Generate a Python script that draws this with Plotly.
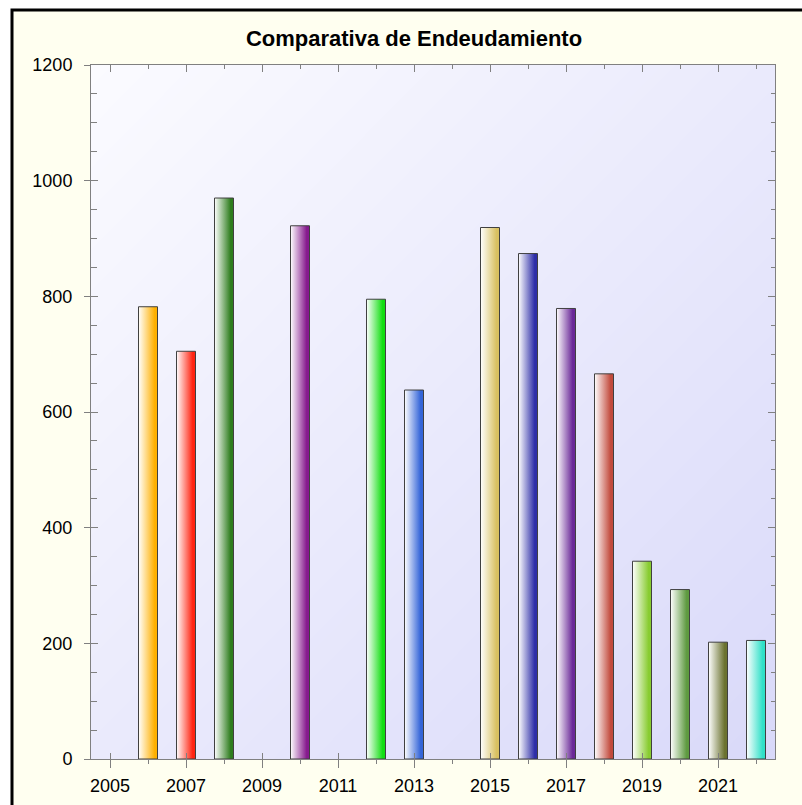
import plotly.graph_objects as go

# ---- data ----
years = [2006, 2007, 2008, 2010, 2012, 2013, 2015, 2016, 2017, 2018, 2019, 2020, 2021, 2022]
values = [782, 705, 970, 922, 795, 638, 919, 874, 779, 666, 342, 293, 202, 205]
bar_colors = ["#FFB000", "#FF2412", "#2E7D1E", "#861A8E", "#12DE12", "#3364D8",
              "#D8C060", "#2E2EA8", "#6A2898", "#C24A3C", "#88CC30", "#5E9A40",
              "#6B7230", "#30E0C8"]
title_text = "Comparativa de Endeudamiento"
x_tick_start, x_tick_step = 2005, 2
y_tick_step, y_minor_step = 200, 50

X_RANGE = [2004.5, 2022.5]
Y_RANGE = [0, 1200]
BAR_W = 0.5
FONT = "Liberation Sans, Arial, sans-serif"
AXIS_COL = "#808080"

# plot area pixel geometry
L, R, T, B = 91, 27, 65, 46
W, H = 802, 805
PW, PH = W - L - R, H - T - B

fig = go.Figure()

# gradient background of plot area
fig.add_trace(go.Heatmap(
    x=X_RANGE, y=Y_RANGE, z=[[1, 2], [0, 1]], zmin=0, zmax=2,
    colorscale=[[0, "#FBFBFF"], [1, "#D9D9F9"]], zsmooth="best",
    showscale=False, hoverinfo="skip"))

# bars with horizontal gradient
for yr, v, c in zip(years, values, bar_colors):
    x0, x1 = yr - BAR_W / 2, yr + BAR_W / 2
    fig.add_trace(go.Scatter(
        x=[x0, x0, x1, x1, x0], y=[0, v, v, 0, 0],
        mode="lines", fill="toself",
        fillgradient=dict(type="horizontal",
                          colorscale=[[0, "#FFFFFF"], [0.85, c], [1, c]]),
        line=dict(color="#404040", width=1),
        hovertemplate=f"{yr}: {v}<extra></extra>", showlegend=False))

# dummy traces to bind overlay axes
fig.add_trace(go.Scatter(x=[None], y=[None], xaxis="x2", yaxis="y", showlegend=False))
fig.add_trace(go.Scatter(x=[None], y=[None], xaxis="x3", yaxis="y", showlegend=False))
fig.add_trace(go.Scatter(x=[None], y=[None], xaxis="x", yaxis="y2", showlegend=False))
fig.add_trace(go.Scatter(x=[None], y=[None], xaxis="x", yaxis="y3", showlegend=False))

tickfont = dict(family=FONT, size=18, color="#000000")
common = dict(automargin=False, showgrid=False, zeroline=False, fixedrange=True)

fig.update_layout(
    width=W, height=H,
    margin=dict(l=L, r=R, t=T, b=B, autoexpand=False),
    paper_bgcolor="#FFFFFF", plot_bgcolor="#EEEEFC",
    showlegend=False,
    title=dict(text=title_text, x=(414 - L) / PW, xref="paper", xanchor="center",
               y=1 - 38 / H, yref="container", yanchor="middle",
               font=dict(family=FONT, size=22, color="#000000", weight="bold")),
    xaxis=dict(range=X_RANGE, tickmode="linear", tick0=x_tick_start, dtick=x_tick_step,
               ticks="outside", ticklen=8, tickcolor=AXIS_COL, tickwidth=1,
               minor=dict(tickmode="linear", tick0=x_tick_start, dtick=1,
                          ticks="outside", ticklen=4, tickcolor=AXIS_COL),
               showline=True, linecolor=AXIS_COL, linewidth=1,
               tickfont=tickfont, ticklabelstandoff=2, **common),
    xaxis2=dict(range=X_RANGE, overlaying="x", anchor="y", side="bottom",
                tickmode="linear", tick0=x_tick_start, dtick=x_tick_step,
                ticks="inside", ticklen=6, tickcolor=AXIS_COL,
                showticklabels=False, showline=False, **common),
    xaxis3=dict(range=X_RANGE, overlaying="x", anchor="y", side="top",
                tickmode="linear", tick0=x_tick_start, dtick=x_tick_step,
                ticks="inside", ticklen=7, tickcolor=AXIS_COL,
                minor=dict(tickmode="linear", tick0=x_tick_start, dtick=1,
                           ticks="inside", ticklen=4, tickcolor=AXIS_COL),
                showticklabels=False, showline=True, linecolor=AXIS_COL, **common),
    yaxis=dict(range=Y_RANGE, tickmode="linear", tick0=0, dtick=y_tick_step,
               ticks="outside", ticklen=6, tickcolor=AXIS_COL,
               showline=True, linecolor=AXIS_COL, linewidth=1,
               tickfont=tickfont, ticklabelstandoff=8, **common),
    yaxis2=dict(range=Y_RANGE, overlaying="y", anchor="x", side="left",
                tickmode="linear", tick0=0, dtick=y_tick_step,
                ticks="inside", ticklen=7, tickcolor=AXIS_COL,
                minor=dict(tickmode="linear", tick0=0, dtick=y_minor_step,
                           ticks="inside", ticklen=6, tickcolor=AXIS_COL),
                showticklabels=False, showline=False, **common),
    yaxis3=dict(range=Y_RANGE, overlaying="y", anchor="x", side="right",
                tickmode="linear", tick0=0, dtick=y_tick_step,
                ticks="inside", ticklen=7, tickcolor=AXIS_COL,
                minor=dict(tickmode="linear", tick0=0, dtick=y_minor_step,
                           ticks="inside", ticklen=4, tickcolor=AXIS_COL),
                showticklabels=False, showline=True, linecolor=AXIS_COL, **common),
    shapes=[dict(type="rect", xref="paper", yref="paper", layer="below",
                 x0=(12 - L) / PW, x1=1.6, y0=-0.6, y1=(H - B - 10) / PH,
                 fillcolor="#FFFFF0", line=dict(color="#000000", width=3))],
)

fig.write_html("out.html", config={"displayModeBar": False},
               post_script="document.body.style.margin='0';document.body.style.overflow='hidden';")
